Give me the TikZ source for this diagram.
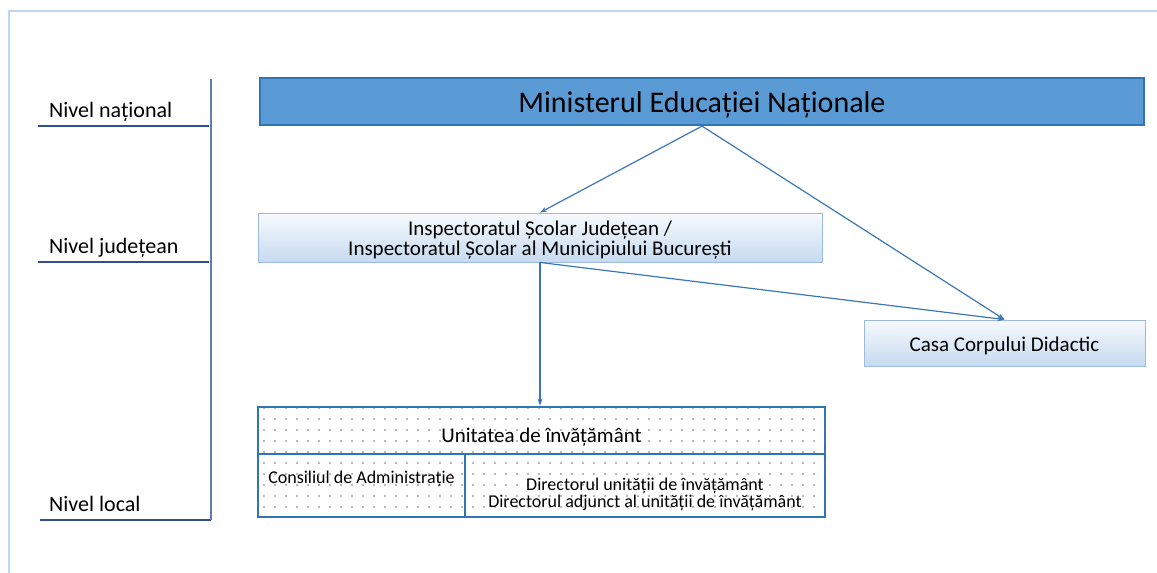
\documentclass[tikz,border=0pt]{standalone}
\usepackage{fontspec}
\setmainfont{Carlito}
\usetikzlibrary{arrows.meta,patterns.meta}
\definecolor{framec}{HTML}{BDD7EE}
\definecolor{ulinec}{HTML}{2F4F8F}
\definecolor{vlinec}{HTML}{5A7FB5}
\definecolor{minfill}{HTML}{5B9BD5}
\definecolor{minborder}{HTML}{2E75B6}
\definecolor{lighttop}{HTML}{F7FAFD}
\definecolor{lightbot}{HTML}{C6DAF0}
\definecolor{lightborder}{HTML}{9DB9DC}
\definecolor{arrowc}{HTML}{3A76B8}
\definecolor{unitborder}{HTML}{2E75B6}
\tikzset{
  levellabel/.style={anchor=base west, inner sep=0pt, font=\fontsize{22}{24}\selectfont},
  levelline/.style={draw=ulinec, line width=1.4pt},
  ministrybox/.style={draw=minborder, line width=2.2pt, fill=minfill, inner sep=0pt},
  lightbox/.style={draw=lightborder, line width=0.9pt, top color=lighttop, bottom color=lightbot, inner sep=0pt},
  unitbox/.style={draw=unitborder, line width=2.8pt, inner sep=0pt, fill=white, postaction={pattern={Dots[distance=11pt, radius=0.8pt]}, pattern color=gray!90!black}},
  boxtext/.style={inner sep=0pt, align=center},
  conn/.style={draw=arrowc, line width=1.2pt, -{Stealth[length=7pt,width=5pt]}},
}
\begin{document}
\begin{tikzpicture}[x=1pt,y=-1pt]
\useasboundingbox (0,0) rectangle (1157,573);
% outer frame (top and left)
\draw[framec, line width=1.5pt] (9,573) -- (9,11) -- (1157,11);
% level labels
\node[levellabel] (lnat) at (49,117) {Nivel național};
\node[levellabel] (ljud) at (49,253) {Nivel județean};
\node[levellabel] (lloc) at (49,511) {Nivel local};
\coordinate (v1) at (211,79);
\coordinate (v2) at (211,520);
\coordinate (u1a) at (38,126);  \coordinate (u1b) at (209,126);
\coordinate (u2a) at (38,262);  \coordinate (u2b) at (209,262);
\coordinate (u3a) at (40,520);  \coordinate (u3b) at (211,520);
\draw[levelline] (u1a) -- (u1b);
\draw[levelline] (u2a) -- (u2b);
\draw[levelline] (u3a) -- (u3b);
\draw[draw=vlinec, line width=1.4pt] (v1) -- (v2);
% boxes
\node[ministrybox, minimum width=884pt, minimum height=47pt] (min) at (702,101.5) {};
\node[boxtext, font=\fontsize{30}{32}\selectfont] (mint) at (702,105) {Ministerul Educației Naționale};
\node[lightbox, minimum width=564pt, minimum height=49pt] (insp) at (540,237.5) {};
\node[boxtext, font=\fontsize{21}{20}\selectfont] (inspt) at (540,240) {Inspectoratul Școlar Județean /\\Inspectoratul Școlar al Municipiului București};
\node[lightbox, minimum width=281pt, minimum height=46pt] (casa) at (1004.5,343) {};
\node[boxtext, font=\fontsize{21}{21}\selectfont] (casat) at (1004.5,346) {Casa Corpului Didactic};
\node[unitbox, minimum width=567pt, minimum height=47pt] (unit) at (541.5,430.5) {};
\node[unitbox, minimum width=207pt, minimum height=63pt] (cons) at (361.5,485.5) {};
\node[unitbox, minimum width=360pt, minimum height=63pt] (dir) at (645,485.5) {};
\node[boxtext, font=\fontsize{21}{21}\selectfont] (unitt) at (541.5,437) {Unitatea de învățământ};
\node[boxtext, font=\fontsize{18}{18}\selectfont] (const) at (361.5,479) {Consiliul de Administrație};
\node[boxtext, font=\fontsize{18}{17}\selectfont] (dirt) at (645,494) {Directorul unității de învățământ\\Directorul adjunct al unității de învățământ};
% connectors
\draw[conn] (min.south) -- (insp.north);
\draw[conn] (min.south) -- (casa.north);
\draw[conn] (insp.south) -- (insp.south |- unit.north);
\draw[conn] (insp.south) -- (casa.north);
\end{tikzpicture}
\end{document}
